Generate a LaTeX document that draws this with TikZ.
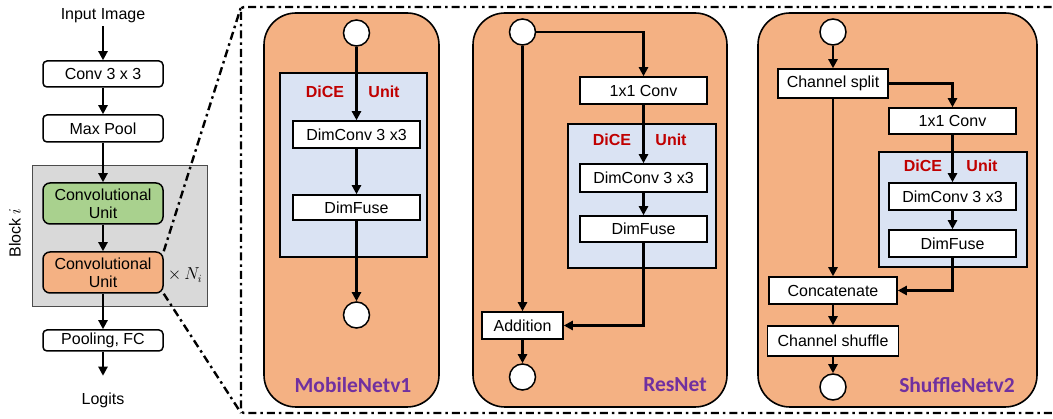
\documentclass[tikz,border=0pt]{standalone}
\usepackage{fontspec}
\setmainfont{Liberation Sans}
\newfontfamily\carlito{Carlito}
\usetikzlibrary{arrows.meta,calc}
\definecolor{orangeU}{HTML}{F4B183}
\definecolor{greenU}{HTML}{A9D18E}
\definecolor{grayB}{HTML}{D9D9D9}
\definecolor{blueB}{HTML}{DAE3F3}
\definecolor{diceR}{HTML}{C00000}
\definecolor{purpN}{HTML}{7030A0}
\tikzset{
  txt/.style={font=\fontsize{16}{19}\selectfont, inner sep=0pt},
  box/.style={draw, line width=1.5pt, fill=white, inner sep=0pt, font=\fontsize{16}{19}\selectfont},
  lbox/.style={box, rounded corners=4pt, minimum width=120pt},
  ubox/.style={box, rounded corners=7pt, minimum width=120pt, minimum height=41pt, align=center, font=\fontsize{16}{18}\selectfont},
  panel/.style={draw, line width=1.6pt, fill=orangeU, rounded corners=32pt},
  dicebox/.style={draw, line width=1.5pt, fill=blueB},
  circ/.style={circle, draw, line width=1.5pt, fill=white, minimum size=26pt, inner sep=0pt},
  arr/.style={line width=2.2pt, -{Triangle[length=9pt,width=9pt]}},
  dice/.style={font=\bfseries\fontsize{16}{19}\selectfont, text=diceR, inner sep=0pt},
  pname/.style={font=\carlito\bfseries\fontsize{21.5}{24}\selectfont, text=purpN, inner sep=0pt},
  dashdot/.style={line width=2.4pt, dash pattern=on 8pt off 4pt on 2.5pt off 4pt},
}
\begin{document}
\begin{tikzpicture}[x=1pt,y=-1pt]
\useasboundingbox (0,0) rectangle (1053,419);
% ---------- left column ----------
\node[txt] (inp) at (103,16) {Input Image};
\node[lbox, minimum height=26pt] (conv) at (103,74) {Conv 3 x 3};
\node[lbox, minimum height=27pt] (pool) at (103,128.5) {Max Pool};
\draw[line width=0.9pt, draw=black!70, fill=grayB] (32,165) rectangle (207,306);
\node[ubox, fill=greenU] (cu1) at (103,203.5) {Convolutional\\Unit};
\node[ubox, fill=orangeU] (cu2) at (103,272.5) {Convolutional\\Unit};
\node[lbox, minimum height=21pt] (pfc) at (103,340.5) {Pooling, FC};
\node[txt] (log) at (103,400) {Logits};
\node[txt, rotate=90] (blk) at (15,233) {Block $i$};
\node[txt] (ni) at (185,275) {$\times\, N_i$};
\draw[arr] (inp.south) ++(0,3) -- (conv.north);
\draw[arr] (conv) -- (pool);
\draw[arr] (pool) -- (cu1);
\draw[arr] (cu1) -- (cu2);
\draw[arr] (cu2) -- (pfc);
\draw[arr] (pfc.south) -- ++(0,24);
% ---------- zoom frame ----------
\coordinate (ftl) at (241,7);
\coordinate (fbl) at (241,413);
\draw[dashdot, rounded corners=3pt] (1070,7) -- (ftl) -- (fbl) -- (1070,413);
\draw[dashdot] (cu2.north east) -- (ftl);
\draw[dashdot] (cu2.south east) -- (fbl);
% ---------- MobileNetv1 ----------
\draw[panel] (264,13) rectangle (439,407);
\draw[dicebox] (280,73) rectangle (427,257);
\node[circ] (m0) at (356.5,33) {};
\node[box, minimum width=127pt, minimum height=27pt] (mdc) at (356.5,134.5) {DimConv 3 x3};
\node[box, minimum width=127pt, minimum height=25pt] (mdf) at (356.5,207.5) {DimFuse};
\node[circ] (m1) at (356.5,315) {};
\node[dice] at (325,92) {DiCE};
\node[dice] at (384,92) {Unit};
\node[pname] at (353,385) {MobileNetv1};
\draw[arr] (m0) -- (mdc);
\draw[arr] (mdc) -- (mdf);
\draw[arr] (mdf) -- (m1);
% ---------- ResNet ----------
\draw[panel] (473,13) rectangle (727,407);
\draw[dicebox] (568,124) rectangle (716,268);
\node[circ] (r0) at (522.5,32) {};
\node[box, minimum width=127pt, minimum height=27pt] (rc1) at (643.5,90.5) {1x1 Conv};
\node[box, minimum width=127pt, minimum height=28pt] (rdc) at (643.5,178) {DimConv 3 x3};
\node[box, minimum width=127pt, minimum height=26pt] (rdf) at (643.5,229) {DimFuse};
\node[box, minimum width=81pt, minimum height=27pt] (radd) at (522.5,325.5) {Addition};
\node[circ] (r1) at (522.5,377) {};
\node[dice] at (612,140) {DiCE};
\node[dice] at (671,140) {Unit};
\node[pname] at (675,385) {ResNet};
\draw[arr] (r0.east) -| (rc1.north);
\draw[arr] (r0) -- (radd);
\draw[arr] (rc1) -- (rdc);
\draw[arr] (rdc) -- (rdf);
\draw[arr] (rdf.south) |- (radd.east);
\draw[arr] (radd) -- (r1);
% ---------- ShuffleNetv2 ----------
\draw[panel] (758,13) rectangle (1037,407);
\draw[dicebox] (879,152) rectangle (1027,267);
\node[circ] (s0) at (833,32) {};
\node[box, minimum width=110pt, minimum height=29pt] (ssp) at (833,83.5) {Channel split};
\node[box, minimum width=127pt, minimum height=26pt] (sc1) at (952.5,121) {1x1 Conv};
\node[box, minimum width=127pt, minimum height=27pt] (sdc) at (952.5,196.5) {DimConv 3 x3};
\node[box, minimum width=127pt, minimum height=27pt] (sdf) at (952.5,243.5) {DimFuse};
\node[box, minimum width=128pt, minimum height=27pt] (scat) at (833,290.5) {Concatenate};
\node[box, minimum width=131pt, minimum height=30pt] (ssh) at (833,341) {Channel shuffle};
\node[circ] (s1) at (833,387) {};
\node[dice] at (923,166) {DiCE};
\node[dice] at (982,166) {Unit};
\node[pname] at (957,385) {ShuffleNetv2};
\draw[arr] (s0) -- (ssp);
\draw[arr] (ssp.east) -| (sc1.north);
\draw[arr] (ssp) -- (scat);
\draw[arr] (sc1) -- (sdc);
\draw[arr] (sdc) -- (sdf);
\draw[arr] (sdf.south) |- (scat.east);
\draw[arr] (scat) -- (ssh);
\draw[arr] (ssh) -- (s1);
\end{tikzpicture}
\end{document}
